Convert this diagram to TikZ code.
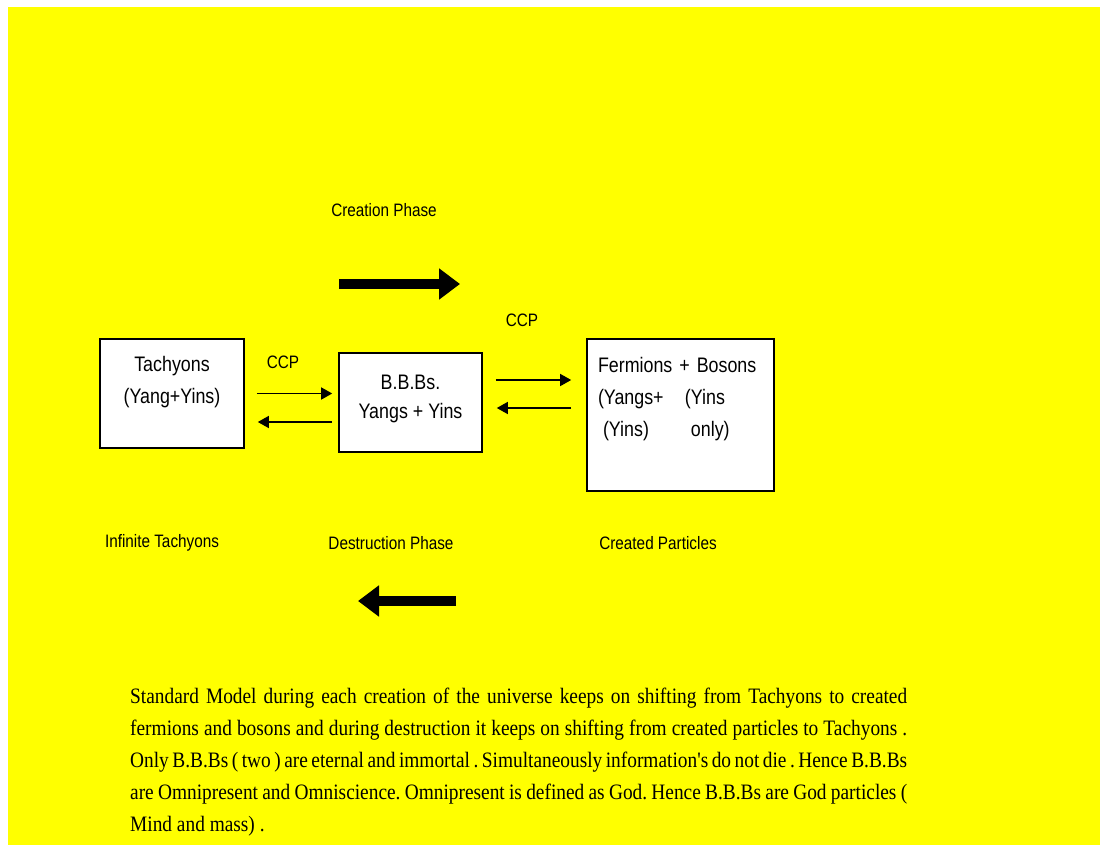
\documentclass[tikz,border=0pt]{standalone}
\usepackage{fontspec}
\newfontfamily\narrowsans{Liberation Sans}[FakeStretch=0.85]
\newfontfamily\narrowserif{Liberation Serif}[FakeStretch=0.88]
\usetikzlibrary{arrows.meta, positioning, calc}
\definecolor{bgyellow}{RGB}{255,255,0}

\begin{document}
\begin{tikzpicture}[
    x=1pt, y=-1pt,
    every node/.style={font=\narrowsans\fontsize{18}{22}\selectfont, inner sep=0pt},
    partblock/.style={rectangle, draw, fill=white, line width=1.6pt, text height=15pt, font=\narrowsans\fontsize{21}{32}\selectfont},
    notetext/.style={text width=777pt, align=justify, font=\narrowserif\fontsize{22}{32}\selectfont},
    arrow/.style={-{Triangle[length=11pt,width=12pt]}, line width=1.4pt},
    bigarrow/.style={-{Triangle[length=21pt,width=30pt]}, line width=10pt}
]
\useasboundingbox (0,0) rectangle (1102,848);
\fill[bgyellow] (8,7) rectangle (1100,845);

% the three stages
\node[partblock, minimum width=144pt, minimum height=109pt, align=center, text height=47pt, text depth=28pt] (tach) at (172,393.5) {Tachyons\\(Yang+Yins)};
\node[partblock, minimum width=143pt, minimum height=99pt, align=center, text height=44pt, text depth=12pt] (bbb) at (410.5,402.5) {B.B.Bs.\\[-3pt]Yangs + Yins};
\node[partblock, minimum width=187pt, minimum height=152pt, text width=165pt, align=left, text depth=100pt] (ferm) at (680.5,415) {Fermions + Bosons\\
\makebox[87pt][l]{(Yangs+}(Yins\\
\makebox[87pt][l]{\hspace{5pt}(Yins)}\hspace{6pt}only)};

\node (ccpa) at (283,362) {CCP};
\node (ccpb) at (522,320) {CCP};

\draw[arrow, shorten <=12pt, shorten >=6pt] (tach.east) -- (tach.east -| bbb.west);
\draw[arrow, shorten <=6pt, shorten >=13pt] ($(tach.east -| bbb.west)+(0,28.5)$) -- ($(tach.east)+(0,28.5)$);
\draw[arrow, shorten <=13pt, shorten >=15pt] ($(bbb.east)+(0,-22.5)$) -- ($(bbb.east -| ferm.west)+(0,-22.5)$);
\draw[arrow, shorten <=15pt, shorten >=14pt] ($(bbb.east -| ferm.west)+(0,5.5)$) -- ($(bbb.east)+(0,5.5)$);

% phases
\node (creation) at (384,210) {Creation Phase};
\draw[bigarrow] (339,284) -- (460,284);
\draw[bigarrow] (456,601) -- (358,601);

\node (inftach) at (162,543) {Infinite Tachyons};
\node (destruction) at (391,543) {Destruction Phase};
\node (created) at (658,543) {Created Particles};

\node[notetext, anchor=north west] (note) at (130,688) {\frenchspacing
Standard Model during each creation of the universe keeps on shifting from Tachyons to created\linebreak
fermions and bosons and during destruction it keeps on shifting from created particles to Tachyons~.\linebreak
Only B.B.Bs (~two~) are eternal and immortal~. Simultaneously information's do not die~. Hence B.B.Bs\linebreak
are Omnipresent and Omniscience. Omnipresent is defined as God. Hence B.B.Bs are God particles (\linebreak
Mind and mass)~.};

\end{tikzpicture}
\end{document}
